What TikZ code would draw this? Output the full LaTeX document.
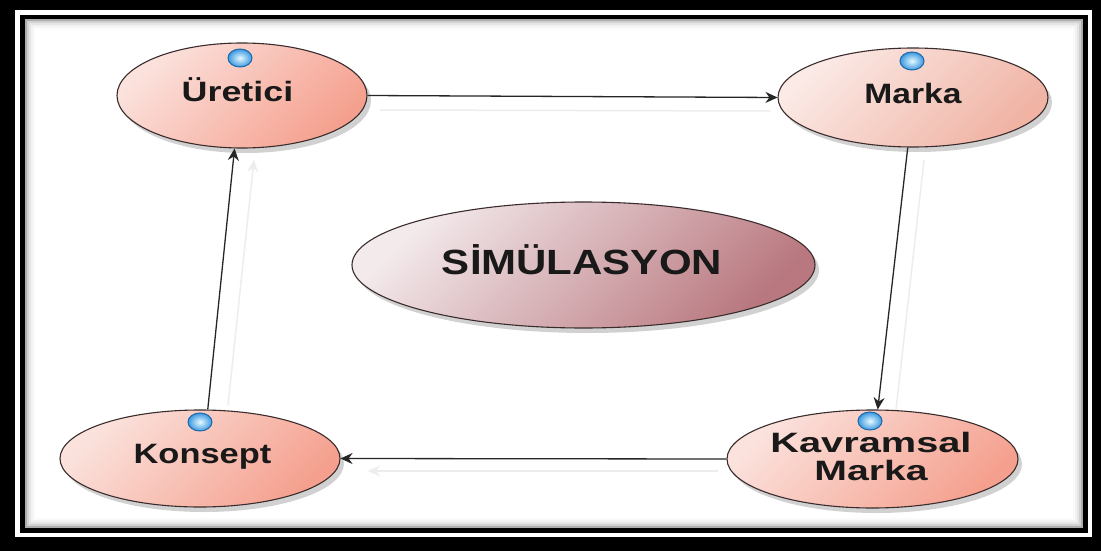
\documentclass[tikz,border=0pt]{standalone}
\usepackage{fontspec}
\usepackage{graphicx}
\setmainfont{Liberation Sans}
\usetikzlibrary{shapes.geometric,shadows,arrows.meta}

\definecolor{rimdark}{HTML}{3A2C2C}
\definecolor{pinkL}{HTML}{FBE2DD}
\definecolor{pinkD}{HTML}{F5A08E}
\definecolor{paleL}{HTML}{FBEAE6}
\definecolor{paleD}{HTML}{F0B3A4}
\definecolor{mauveL}{HTML}{F3EAEC}
\definecolor{mauveD}{HTML}{B9787F}
\definecolor{dotin}{HTML}{E6FAFF}
\definecolor{dotout}{HTML}{3A98E0}
\definecolor{dotrim}{HTML}{1F68A8}
\definecolor{arrowgray}{HTML}{262626}

\newcommand\stretchtxt[2]{\scalebox{#1}[1]{#2}}

\tikzset{
  bubble/.style={ellipse, draw=rimdark, line width=1.1pt, inner sep=0pt,
    top color=pinkL, bottom color=pinkD, shading angle=45,
    drop shadow={shadow xshift=4pt, shadow yshift=-5pt, opacity=0.18, fill=black}},
  palebubble/.style={bubble, top color=paleL, bottom color=paleD, shading angle=45},
  corebubble/.style={bubble, top color=mauveL, bottom color=mauveD, shading angle=45},
  port/.style={ellipse, minimum width=24pt, minimum height=18pt, inner sep=0pt,
    draw=dotrim, line width=1pt, inner color=dotin, outer color=dotout},
  lbltext/.style={inner sep=0pt, font=\fontsize{28}{26}\selectfont\bfseries, text=black!90},
  bigtext/.style={inner sep=0pt, font=\fontsize{35}{36}\selectfont\bfseries, text=black!90},
  flow/.style={draw=arrowgray, line width=1.3pt, -{Stealth[length=12pt,width=11pt]}},
  ghost/.style={draw=black!7, line width=1.5pt},
  ghosttip/.style={ghost, -{Stealth[length=12pt,width=11pt]}},
}

\begin{document}
\begin{tikzpicture}[x=1pt,y=-1pt]
  \useasboundingbox (0,0) rectangle (1101,551);

  % double frame
  \fill[black] (0,0) rectangle (1101,551);
  \fill[white] (15,10) rectangle (1092,537);
  \fill[black] (20,15) rectangle (1088,533);
  \fill[white] (25,19) rectangle (1083,528);
  \foreach \i/\o in {1/0.32,3/0.18,5/0.10,7/0.05,9/0.02}
    \draw[black, opacity=\o, line width=2pt] (25+\i,19+\i) rectangle (1083-\i,528-\i);

  % faint reflections of the connectors
  \draw[ghost] (380,110) -- (770,111);
  \draw[ghosttip] (718,471) -- (368,471);
  \draw[ghost] (924,160) -- (896,410);
  \draw[ghosttip] (228,405) -- (254,160);

  % ellipses
  \node[bubble, minimum width=250pt, minimum height=105pt] (U) at (242,95.5) {};
  \node[palebubble, minimum width=270pt, minimum height=99pt] (M) at (913,97.5) {};
  \node[corebubble, minimum width=463pt, minimum height=126pt] (S) at (583.5,265) {};
  \node[bubble, minimum width=291pt, minimum height=98pt] (KM) at (872.5,459) {};
  \node[bubble, minimum width=280pt, minimum height=97pt] (K) at (200,458.5) {};

  % ports on top of the process ellipses
  \node[port] (pU) at (240,58) {};
  \node[port] (pM) at (912,61) {};
  \node[port] (pKM) at (870,421) {};
  \node[port] (pK) at (200,422) {};

  % labels
  \node[lbltext, anchor=base] (tU) at (237.5,102) {\stretchtxt{1.28}{Üretici}};
  \node[lbltext, anchor=base] (tM) at (913,103) {\stretchtxt{1.2}{Marka}};
  \node[bigtext, anchor=base] (tS) at (582,274) {\stretchtxt{1.2}{SİMÜLASYON}};
  \node[lbltext, anchor=base] (tK) at (202.5,463) {\stretchtxt{1.23}{Konsept}};
  \node[lbltext, align=center, font=\fontsize{28}{28}\selectfont\bfseries] (tKM) at (871,456)
    {\stretchtxt{1.42}{Kavramsal}\\\stretchtxt{1.4}{Marka}};

  % cycle of connectors
  \draw[flow] (U.east) -- (M.west);
  \draw[flow] (M.-96) -- (KM.84);
  \draw[flow] (KM.west) -- (K.east);
  \draw[flow] (K.81) -- (U.-98);
\end{tikzpicture}
\end{document}
